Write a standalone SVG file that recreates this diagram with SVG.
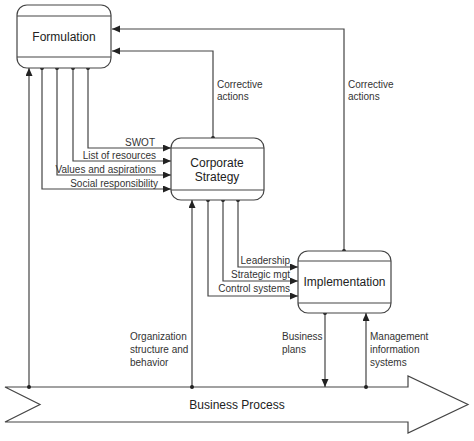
<svg xmlns="http://www.w3.org/2000/svg" width="474" height="441" viewBox="0 0 474 441">
<defs>
<style>
.box{fill:#fff;stroke:#444;stroke-width:1.2}
.sep{stroke:#444;stroke-width:1.2}
.c{fill:none;stroke:#444;stroke-width:1.2}
.t{font-family:"Liberation Sans",Arial,sans-serif;fill:#222}
.big{font-size:12px}
.sm{font-size:10px;fill:#333}
.dot{fill:#222}
</style>
<marker id="ah" markerUnits="userSpaceOnUse" markerWidth="9" markerHeight="8" refX="8" refY="3.5" orient="auto">
<path d="M0,0 L8,3.5 L0,7 z" fill="#222"/>
</marker>
</defs>
<g id="business-process">
<polygon class="box" points="5,387 408,387 408,376 468,404.5 408,433 408,422 5,422 40,404.5"/>
<text class="t big" x="237" y="408.5" text-anchor="middle">Business Process</text>
</g>
<g id="connectors">
<path class="c" d="M213,138 V51 H112" marker-end="url(#ah)"/>
<path class="c" d="M344,251 V29 H112" marker-end="url(#ah)"/>
<path class="c" d="M88,68 V148 H171" marker-end="url(#ah)"/>
<path class="c" d="M73,68 V161 H171" marker-end="url(#ah)"/>
<path class="c" d="M57,68 V175 H171" marker-end="url(#ah)"/>
<path class="c" d="M42,68 V189 H171" marker-end="url(#ah)"/>
<path class="c" d="M238,200 V267 H298" marker-end="url(#ah)"/>
<path class="c" d="M223,200 V281 H298" marker-end="url(#ah)"/>
<path class="c" d="M208,200 V296 H298" marker-end="url(#ah)"/>
<path class="c" d="M192,387 V200" marker-end="url(#ah)"/>
<path class="c" d="M29,387 V68" marker-end="url(#ah)"/>
<path class="c" d="M325,313 V387" marker-end="url(#ah)"/>
<path class="c" d="M366,387 V313" marker-end="url(#ah)"/>
<circle class="dot" cx="213" cy="138" r="2"/>
<circle class="dot" cx="344" cy="251" r="2"/>
<circle class="dot" cx="88" cy="68" r="2"/>
<circle class="dot" cx="73" cy="68" r="2"/>
<circle class="dot" cx="57" cy="68" r="2"/>
<circle class="dot" cx="42" cy="68" r="2"/>
<circle class="dot" cx="238" cy="200" r="2"/>
<circle class="dot" cx="223" cy="200" r="2"/>
<circle class="dot" cx="208" cy="200" r="2"/>
<circle class="dot" cx="192" cy="387" r="2"/>
<circle class="dot" cx="29" cy="387" r="2"/>
<circle class="dot" cx="325" cy="313" r="2"/>
<circle class="dot" cx="366" cy="387" r="2"/>
<text class="t sm" x="155" y="146" text-anchor="end">SWOT</text>
<text class="t sm" x="156" y="159" text-anchor="end">List of resources</text>
<text class="t sm" x="156" y="173" text-anchor="end">Values and aspirations</text>
<text class="t sm" x="158" y="187" text-anchor="end">Social responsibility</text>
<text class="t sm" x="290" y="264" text-anchor="end">Leadership</text>
<text class="t sm" x="290" y="278" text-anchor="end">Strategic mgt</text>
<text class="t sm" x="290" y="292" text-anchor="end">Control systems</text>
<text class="t sm" x="217" y="88">Corrective</text>
<text class="t sm" x="217" y="100">actions</text>
<text class="t sm" x="348" y="88">Corrective</text>
<text class="t sm" x="348" y="100">actions</text>
<text class="t sm" x="130" y="340">Organization</text>
<text class="t sm" x="130" y="353">structure and</text>
<text class="t sm" x="130" y="366">behavior</text>
<text class="t sm" x="282" y="340">Business</text>
<text class="t sm" x="282" y="353">plans</text>
<text class="t sm" x="370" y="340">Management</text>
<text class="t sm" x="370" y="353">information</text>
<text class="t sm" x="370" y="366">systems</text>
</g>
<g id="formulation">
<rect class="box" x="17" y="5" width="94" height="63" rx="10"/>
<line class="sep" x1="17" y1="16" x2="111" y2="16"/>
<line class="sep" x1="17" y1="57" x2="111" y2="57"/>
<text class="t big" x="64" y="40.5" text-anchor="middle">Formulation</text>
</g>
<g id="corporate-strategy">
<rect class="box" x="171" y="138" width="93" height="62" rx="10"/>
<line class="sep" x1="171" y1="148" x2="264" y2="148"/>
<line class="sep" x1="171" y1="190" x2="264" y2="190"/>
<text class="t big" x="217" y="167" text-anchor="middle">Corporate</text>
<text class="t big" x="217" y="181" text-anchor="middle">Strategy</text>
</g>
<g id="implementation">
<rect class="box" x="298" y="251" width="93" height="62" rx="10"/>
<line class="sep" x1="298" y1="261" x2="391" y2="261"/>
<line class="sep" x1="298" y1="303" x2="391" y2="303"/>
<text class="t big" x="344.5" y="286" text-anchor="middle">Implementation</text>
</g>
</svg>
